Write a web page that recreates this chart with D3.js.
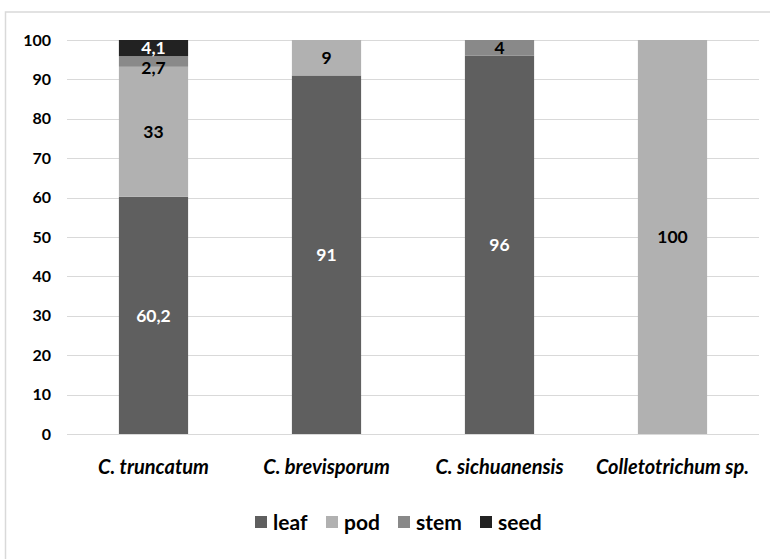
<!DOCTYPE html>
<html>
<head>
<meta charset="utf-8">
<script src="https://cdn.jsdelivr.net/npm/d3@7"></script>
<style>
  html, body { margin: 0; padding: 0; background: #fff; }
  svg { display: block; font-family: Lato, "Open Sans", sans-serif; }
</style>
</head>
<body>
<svg id="chart" width="770" height="559"></svg>
<script>
// Share of isolates by plant part (%)
const categories = ["C. truncatum", "C. brevisporum", "C. sichuanensis", "Colletotrichum sp."];
const parts = ["leaf", "pod", "stem", "seed"];
const leaf = [60.2, 91, 96, 0];
const pod  = [33, 9, 0, 100];
const stem = [2.7, 0, 4, 0];
const seed = [4.1, 0, 0, 0];
const yTicks = [0, 10, 20, 30, 40, 50, 60, 70, 80, 90, 100];

const partColors = { leaf: "#5f5f5f", pod: "#b1b1b1", stem: "#898989", seed: "#222222" };
const labelColors = { leaf: "#ffffff", pod: "#000000", stem: "#000000", seed: "#ffffff" };

const rows = categories.map((c, i) => ({ cat: c, leaf: leaf[i], pod: pod[i], stem: stem[i], seed: seed[i] }));
const series = d3.stack().keys(parts)(rows);

const svg = d3.select("#chart");

// outer frame
svg.append("rect")
  .attr("x", 5.5).attr("y", 12)
  .attr("width", 800).attr("height", 600)
  .attr("fill", "none").attr("stroke", "#d9d9d9").attr("stroke-width", 1.5);

const x = d3.scaleBand().domain(categories).range([67, 759]).paddingInner(0.6).paddingOuter(0.3);
const y = d3.scaleLinear().domain([0, 100]).range([434, 40]);

// gridlines
svg.append("g")
  .selectAll("line").data(yTicks).join("line")
  .attr("x1", 67).attr("x2", 759)
  .attr("y1", d => Math.round(y(d)) + 0.5).attr("y2", d => Math.round(y(d)) + 0.5)
  .attr("stroke", "#d9d9d9").attr("stroke-width", 1);

// y axis labels
const yAxis = svg.append("g")
  .attr("transform", "translate(51,0)")
  .call(d3.axisLeft(y).tickValues(yTicks).tickSize(0).tickPadding(0));
yAxis.select(".domain").remove();
yAxis.selectAll("text")
  .attr("font-family", "Lato, sans-serif")
  .attr("font-size", 16).attr("font-weight", 700).attr("fill", "#000");

// bars
const groups = svg.append("g").selectAll("g").data(series).join("g")
  .attr("fill", d => partColors[d.key]);
groups.selectAll("rect").data(d => d.map(v => ({ key: d.key, v })))
  .join("rect")
  .attr("x", d => x(d.v.data.cat))
  .attr("width", x.bandwidth())
  .attr("y", d => y(d.v[1]))
  .attr("height", d => y(d.v[0]) - y(d.v[1]));

// value labels, stacked top-down so neighbouring labels do not collide
const labelH = 20;
categories.forEach((cat, i) => {
  const segs = series
    .map(s => ({ key: s.key, lo: s[i][0], hi: s[i][1], val: s[i].data[s.key] }))
    .filter(s => s.val > 0)
    .reverse();
  let prev = -Infinity;
  segs.forEach(s => {
    let cy = (y(s.lo) + y(s.hi)) / 2;
    if (cy < prev + labelH) cy = prev + labelH;
    prev = cy;
    svg.append("text")
      .attr("x", x(cat) + x.bandwidth() / 2)
      .attr("y", cy)
      .attr("dy", "0.35em")
      .attr("text-anchor", "middle")
      .attr("font-size", 17.5).attr("font-weight", 700)
      .attr("fill", labelColors[s.key])
      .text(String(s.val).replace(".", ","));
  });
});

// category labels
svg.append("g").selectAll("text").data(categories).join("text")
  .attr("x", d => x(d) + x.bandwidth() / 2)
  .attr("y", 474)
  .attr("text-anchor", "middle")
  .attr("font-size", 20).attr("font-weight", 700).attr("font-style", "italic")
  .attr("fill", "#000")
  .text(d => d);

// legend
const legendX = [255, 326, 398, 480];
const legend = svg.append("g").selectAll("g").data(parts).join("g")
  .attr("transform", (d, i) => `translate(${legendX[i]},522)`);
legend.append("rect")
  .attr("x", 0).attr("y", -6).attr("width", 12).attr("height", 12)
  .attr("fill", d => partColors[d]);
legend.append("text")
  .attr("x", 18).attr("y", 8)
  .attr("font-size", 21).attr("font-weight", 700).attr("fill", "#000")
  .text(d => d);
</script>
</body>
</html>
